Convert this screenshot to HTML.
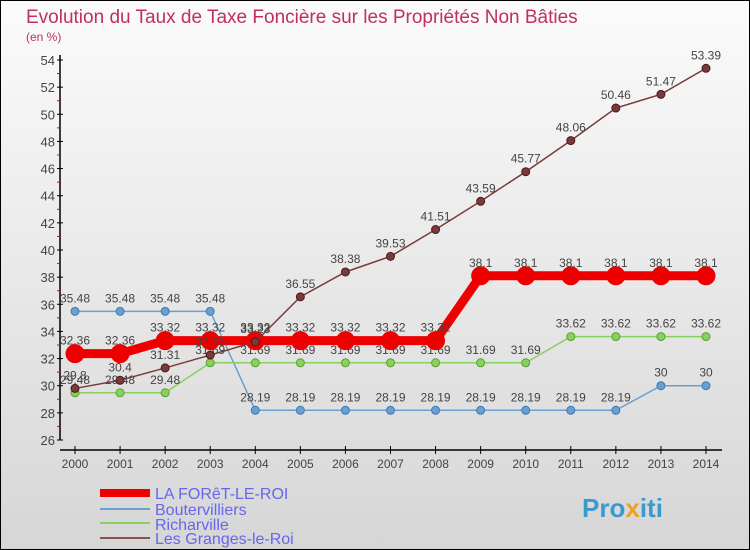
<!DOCTYPE html>
<html><head><meta charset="utf-8"><style>
body{margin:0}
#c{width:750px;height:550px;position:relative;font-family:"Liberation Sans",sans-serif}
</style></head><body>
<div id="c">
<svg id="s" width="750" height="550" xmlns="http://www.w3.org/2000/svg" style="position:absolute;left:0;top:0">
<defs><linearGradient id="bg" x1="0" y1="0" x2="0" y2="1"><stop offset="0" stop-color="#fbfbfb"/><stop offset="1" stop-color="#d6d6d6"/></linearGradient></defs>
<rect x="0.5" y="0.5" width="749" height="549" fill="url(#bg)" stroke="#000"/>
<text x="26" y="23" font-size="19" fill="#c0305a">Evolution du Taux de Taxe Foncière sur les Propriétés Non Bâties</text>
<text x="26" y="41" font-size="12" fill="#c0305a">(en %)</text>
<g id="axes"></g><g id="series"></g>
<g>
<line x1="100" y1="493" x2="150" y2="493" stroke="#e00" stroke-width="8"/>
<text x="155" y="499" font-size="16" fill="#6666ee">LA FORêT-LE-ROI</text>
<line x1="100" y1="509" x2="150" y2="509" stroke="#6a9fd0" stroke-width="2"/>
<text x="155" y="515" font-size="16" fill="#6666ee">Boutervilliers</text>
<line x1="100" y1="523" x2="150" y2="523" stroke="#88d060" stroke-width="2"/>
<text x="155" y="530" font-size="16" fill="#6666ee">Richarville</text>
<line x1="100" y1="538" x2="150" y2="538" stroke="#8a5050" stroke-width="2"/>
<text x="155" y="544" font-size="16" fill="#6666ee">Les Granges-le-Roi</text>
</g>
<text x="582" y="517" font-size="26" font-weight="bold" fill="#3a9ad0">Pro<tspan fill="#f0a020">x</tspan>iti</text>
</svg>
</div>
<script>
const years=[2000,2001,2002,2003,2004,2005,2006,2007,2008,2009,2010,2011,2012,2013,2014];
const yTicks=[26,28,30,32,34,36,38,40,42,44,46,48,50,52,54];
const foret=[32.36,32.36,33.32,33.32,33.32,33.32,33.32,33.32,33.32,38.1,38.1,38.1,38.1,38.1,38.1];
const bouter=[35.48,35.48,35.48,35.48,28.19,28.19,28.19,28.19,28.19,28.19,28.19,28.19,28.19,30,30];
const richar=[29.48,29.48,29.48,31.69,31.69,31.69,31.69,31.69,31.69,31.69,31.69,33.62,33.62,33.62,33.62];
const granges=[29.8,30.4,31.31,32.26,33.23,36.55,38.38,39.53,41.51,43.59,45.77,48.06,50.46,51.47,53.39];
const NS="http://www.w3.org/2000/svg";
const X=i=>75+i*(631/14);
const Y=v=>440-(v-26)*(380/28);
function mk(t,a,p){const e=document.createElementNS(NS,t);for(const k in a)e.setAttribute(k,a[k]);p.appendChild(e);return e;}
const ax=document.getElementById('axes');
mk('line',{x1:60,y1:55,x2:60,y2:440,stroke:'#000','stroke-width':1.5},ax);
mk('line',{x1:60,y1:450,x2:722,y2:450,stroke:'#000','stroke-width':1.5},ax);
yTicks.forEach(v=>{
 mk('line',{x1:57,y1:Y(v),x2:63,y2:Y(v),stroke:'#000'},ax);
 if(v<54) mk('line',{x1:57,y1:Y(v+1),x2:60,y2:Y(v+1),stroke:'#e00'},ax);
 const t=mk('text',{x:55,y:Y(v)+5,'font-size':13,fill:'#444','text-anchor':'end'},ax);
 
 
 t.textContent=v;
});
years.forEach((yr,i)=>{
 mk('line',{x1:X(i),y1:446,x2:X(i),y2:454,stroke:'#000'},ax);
 const t=mk('text',{x:X(i),y:468,'font-size':12,fill:'#444','text-anchor':'middle'},ax);
 
 
 t.textContent=yr;
});
const sg=document.getElementById('series');
function series(vals,color,w,r,name,dark){
 const g=mk('g',{},sg);
 
 
 mk('polyline',{points:vals.map((v,i)=>X(i)+','+Y(v)).join(' '),fill:'none',stroke:color,'stroke-width':w},g);
 vals.forEach((v,i)=>{
  const c=mk('circle',{cx:X(i),cy:Y(v),r:r,fill:color,stroke:dark,'stroke-width':1},g);
  
  
  const t=mk('text',{x:X(i),y:Y(v)-9,'font-size':12,fill:'#444','text-anchor':'middle'},g);
  
  
  t.textContent=v;
 });
}
series(bouter,'#6a9fd0',1.5,4,'series-boutervilliers','#3a7ab0');
series(richar,'#88d060',1.5,4,'series-richarville','#5aa030');
series(foret,'#ee0000',9,9,'series-la-foret-le-roi','#ee0000');
series(granges,'#7a3a3a',1.5,4,'series-les-granges-le-roi','#4a1a1a');
</script>
</body></html>
